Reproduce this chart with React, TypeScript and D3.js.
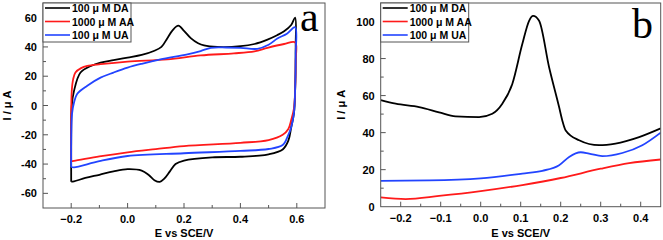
import React from 'react';
import * as d3 from 'd3';

// panel a: cyclic voltammograms, [E (V), I (uA)] around the loop
const cvDA: [number, number][] = [
  [-0.2, -52], [-0.2, -20], [-0.198, 0], [-0.19, 10], [-0.167, 22.5], [-0.13, 27], [-0.096, 29.3],
  [-0.05, 31], [0.0, 32.7], [0.05, 34.5], [0.093, 37.2], [0.12, 40], [0.141, 46], [0.16, 51.5],
  [0.18, 54.5], [0.2, 51], [0.224, 46], [0.25, 42.5], [0.271, 41], [0.318, 40], [0.401, 40.5],
  [0.45, 42], [0.496, 45], [0.53, 48], [0.555, 50.7], [0.58, 55], [0.594, 60],
  [0.596, 40], [0.594, 10], [0.59, -5], [0.58, -15], [0.57, -24], [0.55, -30], [0.5, -33.3],
  [0.4, -35], [0.3, -35.4], [0.2, -37.6], [0.17, -40], [0.15, -45], [0.13, -50], [0.114, -52.2],
  [0.095, -51], [0.075, -47.5], [0.05, -44.5], [0.0, -43.5], [-0.05, -45], [-0.1, -47.3],
  [-0.15, -49.5], [-0.19, -51.8], [-0.2, -52],
];
const cvAA: [number, number][] = [
  [-0.2, -38], [-0.2, -10], [-0.198, 10], [-0.193, 18], [-0.185, 22.5], [-0.165, 25.5],
  [-0.143, 27], [-0.096, 28.2], [0.0, 30], [0.141, 31.5], [0.259, 34.2], [0.377, 35.6],
  [0.45, 37], [0.496, 39.4], [0.555, 42], [0.594, 43.2],
  [0.596, 30], [0.594, 10], [0.59, -2], [0.58, -10], [0.57, -16], [0.55, -20], [0.5, -23.6],
  [0.4, -25.5], [0.2, -27.7], [0.1, -29.8], [0.0, -32], [-0.1, -34.8], [-0.19, -37.8], [-0.2, -38],
];
const cvUA: [number, number][] = [
  [-0.2, -42], [-0.2, -25], [-0.197, -5.6], [-0.19, 2], [-0.179, 7.9], [-0.143, 13.5],
  [-0.096, 19], [-0.05, 22.5], [0.0, 25.9], [0.05, 28.5], [0.117, 31.5], [0.212, 34.9],
  [0.259, 37.2], [0.295, 39.4], [0.35, 39.6], [0.401, 39.4], [0.46, 38.7], [0.5, 41.5],
  [0.531, 45.7], [0.565, 49], [0.594, 53.4],
  [0.596, 35], [0.594, 10], [0.59, -5], [0.58, -15], [0.57, -20], [0.55, -27], [0.5, -29.7],
  [0.4, -31], [0.2, -32.6], [0.0, -34.5], [-0.1, -38], [-0.19, -42.3], [-0.2, -42],
];

// panel b: DPV curves
const dpvDA: [number, number][] = [
  [-0.25, 57.6], [-0.2125, 55.6], [-0.154, 53.8], [-0.104, 51], [-0.063, 48.8], [-0.004, 48.4],
  [0.029, 50.2], [0.054, 55.6], [0.079, 66.3], [0.104, 87.8], [0.121, 100.4], [0.131, 103],
  [0.146, 100.4], [0.171, 75.3], [0.196, 53.8], [0.204, 46.6], [0.2125, 41.2], [0.246, 35.9],
  [0.296, 33.2], [0.337, 34.1], [0.396, 37.6], [0.45, 42.3],
];
const dpvAA: [number, number][] = [
  [-0.25, 5], [-0.1875, 4.1], [-0.104, 5.8], [0.0, 8.4], [0.104, 11.7], [0.2, 15.5],
  [0.3, 20.5], [0.371, 23.5], [0.45, 25.5],
];
const dpvUA: [number, number][] = [
  [-0.25, 14], [-0.129, 14.2], [0.0, 15.3], [0.104, 17.9], [0.154, 19.4], [0.196, 22.4],
  [0.221, 26.9], [0.25, 29.4], [0.271, 28.7], [0.304, 27.3], [0.354, 29], [0.404, 33.2], [0.45, 40],
];

const legendNames = ['100 \u03bc M DA', '1000 \u03bc M AA', '100 \u03bc M UA'];
const colors = ['#000000', '#ff1a1a', '#2244ff'];

const aXTicks = [-0.2, 0.0, 0.2, 0.4, 0.6];
const aYTicks = [-60, -40, -20, 0, 20, 40, 60];
const bXTicks = [-0.2, -0.1, 0.0, 0.1, 0.2, 0.3, 0.4];
const bYTicks = [0, 20, 40, 60, 80, 100];

const tickFont = { fontFamily: 'Liberation Sans, Arial, sans-serif', fontWeight: 700, fontSize: 11 };

type PanelProps = {
  id: string;
  box: { l: number; r: number; t: number; b: number };
  xDomain: [number, number];
  yDomain: [number, number];
  xTicks: number[];
  yTicks: number[];
  xMinorStep: number;
  yMinorStep: number;
  series: [number, number][][];
  loop: boolean;
  letter: string;
  letterX: number;
  letterY: number;
  yTitleX: number;
  legendW: number;
};

const Panel = (p: PanelProps) => {
  const x = d3.scaleLinear().domain(p.xDomain).range([p.box.l, p.box.r]);
  const y = d3.scaleLinear().domain(p.yDomain).range([p.box.b, p.box.t]);
  const line = d3.line<[number, number]>()
    .x(d => x(d[0]))
    .y(d => y(d[1]))
    .curve(p.loop ? d3.curveCatmullRom.alpha(0.5) : d3.curveMonotoneX);

  const xMinor = d3.range(p.xDomain[0], p.xDomain[1] + 1e-9, p.xMinorStep)
    .map(v => Math.round(v / p.xMinorStep) * p.xMinorStep)
    .filter(v => v > p.xDomain[0] + 1e-6 && v < p.xDomain[1] - 1e-6);
  const yMinor = d3.range(p.yDomain[0], p.yDomain[1] + 1e-9, p.yMinorStep)
    .filter(v => v > p.yDomain[0] && v < p.yDomain[1]);
  const fmtX = d3.format('.1f');
  const isMajorX = (v: number) => p.xTicks.some(t => Math.abs(t - v) < 1e-6);
  const isMajorY = (v: number) => p.yTicks.some(t => Math.abs(t - v) < 1e-6);
  const axisColor = '#555';
  const midX = (p.box.l + p.box.r) / 2;
  const midY = (p.box.t + p.box.b) / 2;

  return (
    <g>
      <defs>
        <clipPath id={p.id}>
          <rect x={p.box.l} y={p.box.t} width={p.box.r - p.box.l} height={p.box.b - p.box.t} />
        </clipPath>
      </defs>
      <g clipPath={`url(#${p.id})`}>
        {p.series.map((s, i) => (
          <path key={i} d={line(s) || ''} fill="none" stroke={colors[i]} strokeWidth={1.8} strokeLinejoin="round" />
        ))}
      </g>
      <rect x={p.box.l} y={p.box.t} width={p.box.r - p.box.l} height={p.box.b - p.box.t}
        fill="none" stroke={axisColor} strokeWidth={1} />
      {xMinor.map(v => (
        <line key={'xm' + v} x1={x(v)} x2={x(v)} y1={p.box.b} y2={p.box.b - (isMajorX(v) ? 5 : 3)} stroke={axisColor} />
      ))}
      {yMinor.map(v => (
        <line key={'ym' + v} x1={p.box.l} x2={p.box.l + (isMajorY(v) ? 5 : 3)} y1={y(v)} y2={y(v)} stroke={axisColor} />
      ))}
      {p.xTicks.map(v => (
        <text key={'xt' + v} x={x(v)} y={p.box.b + 15} textAnchor="middle" style={tickFont}>{fmtX(v)}</text>
      ))}
      {p.yTicks.map(v => (
        <text key={'yt' + v} x={p.box.l - 6} y={y(v) + 4} textAnchor="end" style={tickFont}>{v}</text>
      ))}
      <text x={midX} y={237} textAnchor="middle" style={tickFont}>E vs SCE/V</text>
      <text transform={`translate(${p.yTitleX},${midY}) rotate(-90)`} textAnchor="middle" style={tickFont}>I / {'\u03bc'} A</text>
      <rect x={p.box.l} y={p.box.t} width={p.legendW} height={39} fill="#fff" stroke={axisColor} strokeWidth={1} />
      {legendNames.map((n, i) => (
        <g key={n}>
          <line x1={p.box.l + 2} x2={p.box.l + 27} y1={p.box.t + 5 + i * 13.5} y2={p.box.t + 5 + i * 13.5}
            stroke={colors[i]} strokeWidth={1.6} />
          <text x={p.box.l + 29} y={p.box.t + 9 + i * 13.5} style={{ ...tickFont, fontSize: 10.5 }}>{n}</text>
        </g>
      ))}
      <text x={p.letterX} y={p.letterY} style={{ fontFamily: 'Liberation Serif, Times New Roman, serif', fontSize: 42 }}>{p.letter}</text>
    </g>
  );
};

export default function App() {
  return (
    <svg width={663} height={240} style={{ position: 'absolute', left: 0, top: 0, background: '#fff' }}>
      <Panel id="clipA" box={{ l: 43, r: 325, t: 3, b: 208 }} xDomain={[-0.3, 0.7]} yDomain={[-70, 70]}
        xTicks={aXTicks} yTicks={aYTicks} xMinorStep={0.1} yMinorStep={10}
        series={[cvDA, cvAA, cvUA]} loop={true} letter="a" letterX={300} letterY={31}
        yTitleX={11} legendW={88} />
      <Panel id="clipB" box={{ l: 380.7, r: 660.7, t: 3, b: 206.7 }} xDomain={[-0.25, 0.45]} yDomain={[0, 110]}
        xTicks={bXTicks} yTicks={bYTicks} xMinorStep={0.05} yMinorStep={10}
        series={[dpvDA, dpvAA, dpvUA]} loop={false} letter="b" letterX={632} letterY={38}
        yTitleX={345} legendW={88} />
    </svg>
  );
}
